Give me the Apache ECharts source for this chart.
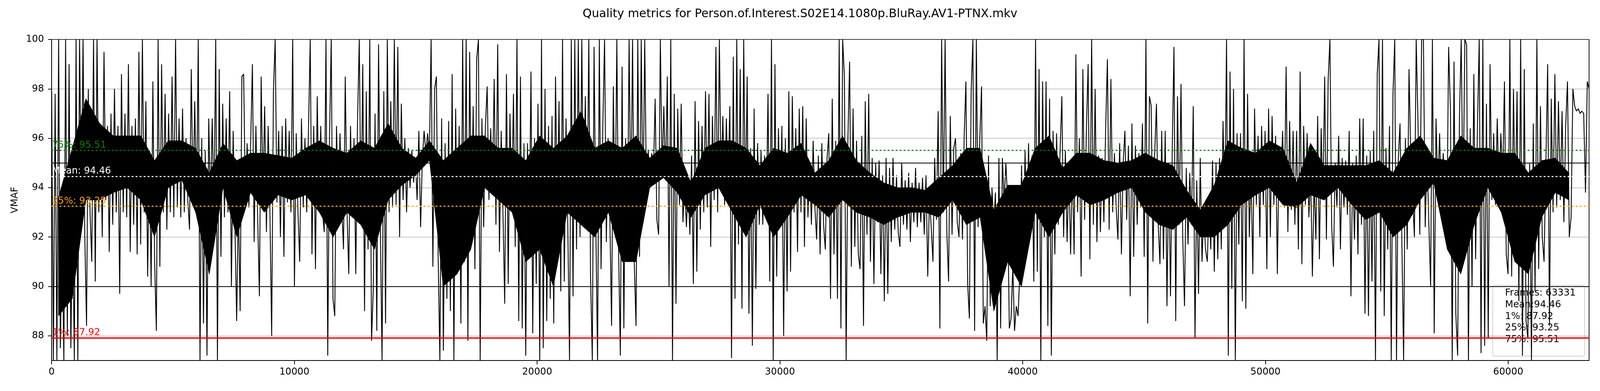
<!DOCTYPE html>
<html><head><meta charset="utf-8">
<script src="https://cdn.jsdelivr.net/npm/echarts@6/dist/echarts.min.js"></script>
<style>html,body{margin:0;padding:0;background:#fff;overflow:hidden;width:100%;height:100%}#c{width:100vw;height:100vh}</style>
</head><body><div id="c"></div>
<script>
const chartTitle = 'Quality metrics for Person.of.Interest.S02E14.1080p.BluRay.AV1-PTNX.mkv';
const totalFrames = 63331;
const statLabels = ['75%: 95.51', 'Mean: 94.46', '25%: 93.25', '1%: 87.92'];
const statValues = [95.51, 94.46, 93.25, 87.92];
const statColors = ['#008000', '#ffffff', '#ffa500', '#ff0000'];
const boxLines = ['Frames: 63331', 'Mean:94.46', '1%: 87.92', '25%: 93.25', '75%: 95.51'];
const xTicks = [0, 10000, 20000, 30000, 40000, 50000, 60000];
const yTicks = [88, 90, 92, 94, 96, 98, 100];
const refLines = [90, 95];
const segStartFrames = [0, 7909, 15848, 23787, 31726, 39664, 47603, 55542, 63331];

// sampled VMAF trace (alternating local highs / lows), one array per frame segment
const seg1 = [97.9,87,97.8,87,100,87.5,92,87,100,88,99,87.5,93,87,100,87,100,93,100,92,88.4,98,93,91,100,90.2,100,93,96.5,92,99.5,93.5,96.5,91.4,97,92.5,98,93,96.5,89.7,98.6,93,97,92.8,99,91.4,96.5,92.5,96.8,91.3,99.5,91.7,100,93,97.5,90.4,95.5,90,98.3,91,88.2,100,90.8,99,93,97.8,92.3,97,93,98.5,92.8,100,93.2,96.8,92.8,97.2,93,96,93.5,92.3,98.8,93.5,97.5,93,100,87,96,88.5,95.5,87.2,96.8,93.2,96.8,93,100,87,98.8,91.2,97.4,92.8,96.8,93,97.9,90,96.3,92.5,88.6,93.5,89,98.5];
const seg2 = [98.6,93.5,95.8,93.2,95.8,99,91.8,96.5,92.8,89.6,98.5,93.7,97.3,92.2,96.5,93,88,97.9,100,93.4,96.3,92,96.5,91.2,96.8,93.4,96.3,93,100,90,96.2,93,91,96.8,93.2,96,93,96.3,100,91.3,96.5,90.7,97.7,93.2,96.5,93,92.2,100,87.2,96,100,89.5,88.8,96.5,93,96.2,93.2,91.5,98.5,93,90.5,96.5,92.8,96,90.5,96.7,100,92.5,99,89,97.9,91.5,100,87.8,89.9,97,88.2,99.8,92.5,87,97.9,88.5,100,93,97.5,93.2,100,93.3,99.7,92,97.4,93.5,96,93,95.6,94,95.5,94.2,95.2,93.5,96.3,92.4,95.2,96.3,95.4,96.2,95.3,100,90.8,98];
const seg3 = [98.5,91.3,87,96.8,87.4,95.8,89.5,96.7,89,98.6,87,97.2,91.1,96.5,88.5,100,91,100,87.8,99.5,92,97.3,90.7,99.2,100,87,96.8,92.4,96.5,98.1,93.5,96.4,94,98.4,92.5,99.8,91.4,96.3,93,89.3,98.6,90.1,97,93.1,97.8,91.6,100,88.6,98.5,88.3,95.8,87.2,95.8,92,98.7,88.1,96,90.1,97.4,87,100,87.5,98,88.6,96.5,89.5,96.9,88.5,98.5,92.8,97.5,89.8,100,90.2,96.8,92.5,87,100,89.6,100,91.5,100,92,100,93,97.7,92.5,100,90.4,87,99.7,92.5,87,100,90.7,96.5,100,91.8,96,92.8,88.4,98.1,92.5,100,91.5,87.2,98.9,88.3,96,91.5];
const seg4 = [100,93,100,90.9,88.4,100,91.2,100,93,100,93.7,95.5,94.4,95.4,94.5,97.6,92.7,92.1,100,94.5,97.3,94.3,98.5,90,100,87,97.8,89.3,97.2,93.3,97.4,92.6,94.2,92.4,94,92.1,95.3,90.1,97.5,90.6,96.7,92.3,96.5,93,97.9,93.2,97.8,91.6,96.9,93.5,99.7,93,100,94,96.9,93.3,96.8,94,97.3,87.1,99.3,89.5,100,91.7,98.8,89.1,100,93,98.5,88.9,95.6,87.6,97.2,89.9,95.8,92.5,95.5,92.5,95.3,93,97.8,90.2,100,87,99,90.4,96.4,92.8,96.5,88,96,89.8,97.9,90.6,97.7,93,96.4,91.4,97.2,93,97.3,91.6,96.8,92.8,95,92.5,95.9,93.2,91.9,95.3,91.3];
const seg5 = [95.8,92.5,91.5,95.2,96.2,89.5,97.6,91.3,95.9,89.5,100,88.3,100,98.5,87,95.9,99.1,90.8,97.2,91.6,95.9,91.3,90.7,96.1,88.4,97.5,92.1,97.8,91,95.2,90.1,95,92.6,95.1,90.5,94.5,89.4,95.2,89.7,94.8,91.8,95.2,92.3,94.5,92.2,91.6,95,92.5,94.3,92.3,94.6,91.8,94.2,92.6,94.8,92.4,94.2,92.6,94.4,92.1,94.5,90.4,93.6,92.4,91,95.2,92.7,97.1,88.3,100,93,100,92.2,90.2,96.9,92.1,95.6,96,92.6,92,95.4,91.9,96.1,98.3,90.1,88.7,97.9,100,88.2,100,92.4,96,98.1,88.5,89.2,87.8,95.3,89.2,94,92.5,93.8,87,95.2,88.3,95.2,93.4,95,93.5,88.3,88.7,90.8];
const seg6 = [88.2,89.2,88.8,90.5,94.9,91.3,95.5,91.8,95.8,92.1,95.3,90.2,100,90.6,98.8,87,98.3,92,98.3,88.4,97.6,87.2,96.3,91.3,96.2,92.5,95.5,97.7,92,95.5,91.8,94.7,91.3,95,91.3,99.4,93,96,90.4,98.8,92.7,96.3,99,91.1,100,92.5,98,91.8,95.3,92.2,95.2,92.6,96.4,99.2,92.3,98.4,93,95.4,93.2,91.9,95.8,91.3,95,96.3,92.7,95.7,89.6,96.6,91.2,95.7,92.5,95.4,93.2,96.6,91.2,100,88.5,97.7,97.3,91,95.4,97.4,92.5,90.9,96.3,91.1,96.3,89.2,95,89.6,95.5,99.7,88.6,97.7,92.5,98.2,92,89.2,94.8,91.7,94.6,92.5,97.3,87.9,94.3,89.7,95.2,91,93,91.5];
const seg7 = [91,93.2,91.5,95.1,90.6,95,91.1,95.2,91.5,96.7,92.9,100,87.2,98.7,89.9,98,87,96.2,91.7,96.2,89.4,100,89.1,97.8,92,94.7,90.5,97.2,93.3,96.1,92,96.5,93.3,96.3,90.7,97.2,92,96.9,93.3,96.1,90.5,95.6,94.2,96.3,93.2,98.9,92.2,96.7,93.1,96.3,92.5,96.3,91.5,98.7,90.9,96.5,93.3,96.2,92.8,94.5,90.4,94.3,91.9,96.9,91.1,96.4,93.5,98.5,91.9,98.4,100,92.5,90.8,95,93.2,96.1,91.5,95.2,93.2,95.1,92.9,96.3,89.6,95,91.9,95.3,91.3,96.8,92.5,96.8,88.9,95.3,88.8,95.5,90.2,96.3,87,98.6,100,89.8,100,88.8,95.6,91.5,96.5,87,97.8,100,87,95.1];
const seg8 = [96.6,92,87,96,91.5,98.8,95.3,93.7,92,100,96.6,92.1,100,100,92.4,95.2,92.6,90,100,88.1,96.8,93.9,96.2,93.1,95.4,94,92.2,99.7,97.2,87,99.1,88.9,87.2,96.8,100,93,100,99.8,87,96.4,90,98.6,91.1,96.5,100,87.3,100,87.6,97.4,87.9,99,93.5,96.2,93.3,96.8,93.8,96.2,94.3,98.3,91.3,90.5,100,90.4,98,93,97.9,89.4,100,87.2,98.8,88.6,87.9,95,87,96.6,89.8,100,90.7,97.3,92,91,95,99,88.4,97.6,93,98.6,93.2,97.5,93.5,97.1,92.6,96.5,98.3,92,92.8,98,97.3,97.1,97.2,97.0,97.1,97.0,93.8,98.3,98];
const segments = [seg1, seg2, seg3, seg4, seg5, seg6, seg7, seg8];

// dense core of the trace: lower / upper edge of the solid black mass, 14 windows per segment
const coreLo = [
  88.8,89.5,93.5,93.5,93.8,94,93.5,92,94,94.3,93,90.5,94,92,
  93.8,93,93.7,93.5,93.7,93,92,93,92.5,91.5,93.5,94.1,94.5,95.1,
  90,90.5,91.5,94,93.5,93,91,91.5,90,93,92.5,92,93,91,
  91,94,94.4,93.8,92.8,93.7,94,93,92,93.3,92,92.8,93.7,93.3,
  92.8,93.5,93,92.8,92.5,92.8,93,93,92.8,93.5,92.5,92.8,89,91,
  90,93,92,93,93.7,93.3,93.5,93.8,94,93,92.5,92.3,92.8,92,
  92,92.5,93.3,93.7,94,93.3,93.2,93.7,93.5,94,93.3,92.7,93,92,
  92.5,93.5,94.2,91.5,90.5,92.5,94,93,91,90.5,92.8,93.8,93.5,null
];
const coreHi = [
  93.6,95.6,97.6,96.6,96.1,96.1,96.1,95.1,95.9,95.9,95.6,94.6,95.8,95.1,
  95.4,95.4,95.3,95.2,95.6,95.9,95.6,95.4,95.9,95.6,96.6,95.6,95.2,95.9,
  95.1,95.6,96.1,96.1,95.6,95.6,95.1,96.1,95.6,96.1,97.1,95.6,95.9,95.6,
  96.1,95.2,95.7,95.6,94.2,95.6,95.9,95.9,95.6,94.9,95.6,95.4,95.8,94.6,
  95.1,96.1,95.1,94.6,94.2,94,94,93.9,94.4,94.9,95.6,95.6,93.1,94.1,
  94.1,95.6,96.1,94.8,95.4,95.4,95.1,95,95.1,95.4,95.1,94.9,93.9,93.1,
  94.1,95.9,95.6,95.4,95.9,95.6,94.2,95.8,94.9,94.9,94.9,94.9,95.1,94.6,
  95.6,96.1,95.2,95.1,96.1,95.6,95.6,95.4,95.4,94.6,95.1,95.2,94.6,null
];
const coreWindows = 14;

const vmafData = [];
segments.forEach((seg, k) => {
  const start = segStartFrames[k], end = segStartFrames[k + 1];
  const last = k === segments.length - 1;
  const step = (end - start) / (last ? seg.length - 1 : seg.length);
  seg.forEach((v, i) => vmafData.push([start + i * step, v]));
});
const corePts = coreLo.map((lo, i) => {
  const k = Math.floor(i / coreWindows), j = i % coreWindows;
  const start = segStartFrames[k], end = segStartFrames[k + 1];
  return [start + (j + 0.5) * (end - start) / coreWindows, lo, coreHi[i]];
});
const coreQuads = [];
for (let i = 0; i + 1 < corePts.length; i++) {
  const a = corePts[i], b = corePts[i + 1];
  if (a[1] == null || b[1] == null) continue;
  coreQuads.push([a[0], a[1], a[2], b[0], b[1], b[2]]);
}

// layout scale: design is 4400x1000 pixels
const el = document.getElementById('c');
const s = el.clientWidth / 4400;
const sy = el.clientHeight / 1000;
const px = v => v * s;
const py = v => v * sy;
const fs = v => v * s;

const font = 'DejaVu Sans';
const chart = echarts.init(el, null, {renderer: 'canvas'});
chart.setOption({
  animation: false,
  backgroundColor: '#ffffff',
  textStyle: {fontFamily: font},
  title: {
    text: chartTitle, left: 'center', top: py(16),
    textStyle: {fontFamily: font, fontSize: fs(32), fontWeight: 'normal', color: '#000'}
  },
  grid: {left: px(142), right: px(30), top: py(101), bottom: py(78), show: true, borderColor: '#000', borderWidth: 2 * s, backgroundColor: 'transparent'},
  xAxis: {
    type: 'value', min: 0, max: totalFrames, interval: 10000,
    axisLine: {show: true, lineStyle: {color: '#000', width: 2 * s}},
    axisTick: {show: true, length: py(10), lineStyle: {color: '#000', width: 2 * s}, customValues: xTicks},
    axisLabel: {color: '#000', fontSize: fs(26), fontFamily: font, margin: py(18), customValues: xTicks,
                formatter: v => String(v)},
    splitLine: {show: false}
  },
  yAxis: {
    type: 'value', min: 87, max: 100, interval: 1,
    name: 'VMAF', nameLocation: 'middle', nameGap: px(88),
    nameTextStyle: {fontSize: fs(26), fontFamily: font, color: '#000'},
    axisLine: {show: true, lineStyle: {color: '#000', width: 2 * s}},
    axisTick: {show: true, length: px(10), lineStyle: {color: '#000', width: 2 * s}, customValues: yTicks},
    axisLabel: {color: '#000', fontSize: fs(26), fontFamily: font, margin: px(21), customValues: yTicks,
                formatter: v => String(v)},
    splitLine: {show: true, lineStyle: {color: '#8a8a8a', width: 1 * s}}
  },
  series: [
    {
      type: 'line', name: 'ref', data: [], z: 1, silent: true,
      markLine: {
        silent: true, symbol: 'none', animation: false,
        label: {show: false},
        lineStyle: {color: '#000', width: 2 * s, type: 'solid'},
        data: refLines.map(v => ({yAxis: v}))
      }
    },
    {
      type: 'custom', name: 'core', data: coreQuads, z: 2, silent: true, clip: true,
      encode: {x: [0, 3], y: [1, 2, 4, 5]},
      renderItem: (params, api) => {
        const p0 = api.coord([api.value(0), api.value(1)]);
        const p1 = api.coord([api.value(3), api.value(4)]);
        const p2 = api.coord([api.value(3), api.value(5)]);
        const p3 = api.coord([api.value(0), api.value(2)]);
        return {type: 'polygon', shape: {points: [p0, p1, p2, p3]},
                style: {fill: '#000', stroke: '#000', lineWidth: 1}};
      }
    },
    {
      type: 'line', name: 'VMAF', data: vmafData, z: 3, silent: true,
      showSymbol: false, symbol: 'none', sampling: false,
      lineStyle: {color: '#000', width: 2.4 * s},
      markLine: {
        silent: true, symbol: 'none', animation: false,
        data: statValues.map((v, i) => ({
          yAxis: v,
          lineStyle: {color: statColors[i], width: (i === 3 ? 3.5 : 3) * s, type: i === 3 ? 'solid' : [5 * s, 6 * s]},
          label: {show: true, position: 'insideStartTop', formatter: statLabels[i], color: statColors[i],
                  fontSize: fs(26), fontFamily: font, distance: [1, 1]}
        }))
      }
    }
  ],
  graphic: [{
    type: 'group', left: px(4104), top: py(729), z: 100,
    children: [
      {type: 'rect', shape: {x: 0, y: 0, width: px(253), height: py(181), r: 6 * s},
       style: {fill: 'rgba(255,255,255,0.8)', stroke: '#cccccc', lineWidth: 2 * s}},
      {type: 'text', x: px(34), y: py(5),
       style: {text: boxLines.join('\n'), fill: '#000', fontSize: fs(26), fontFamily: font, lineHeight: fs(32)}}
    ]
  }]
});
</script></body></html>
